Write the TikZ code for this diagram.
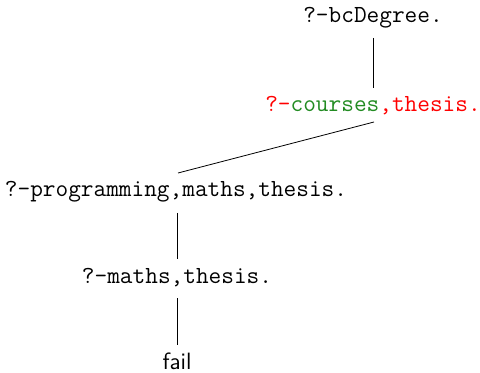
\documentclass[tikz,border=0pt]{standalone}
\definecolor{goalgreen}{RGB}{34,139,34}
\begin{document}
\begin{tikzpicture}[x=0.5pt,y=-0.5pt,
  goal/.style={font=\fontsize{12.3}{14}\selectfont\ttfamily, anchor=base, inner sep=0pt, outer sep=0pt},
  res/.style={font=\fontsize{11.8}{14}\selectfont\sffamily, anchor=base, inner sep=0pt, outer sep=0pt}]
\useasboundingbox (0,0) rectangle (480,373);
\node[goal] (bc) at (373,23) {?-bcDegree.};
\node[goal] (co) at (373,112) {\textcolor{red}{?-}\textcolor{goalgreen}{courses}\textcolor{red}{,thesis.}};
\node[goal] (pr) at (176,197) {?-programming,maths,thesis.};
\node[goal] (ma) at (177,283) {?-maths,thesis.};
\node[res] (fa) at (177,369) {fail};
\coordinate (bcS) at ([yshift=-7.5pt]bc.base);
\coordinate (coN) at ([yshift=12pt]co.base);
\coordinate (coS) at ([yshift=-5pt,xshift=0.5pt]co.base);
\coordinate (prN) at ([yshift=12pt,xshift=1pt]pr.base);
\coordinate (maN) at ([yshift=12pt]ma.base);
\coordinate (prS) at ([yshift=-8pt]pr.base -| maN);
\coordinate (maS) at ([yshift=-7.5pt]ma.base);
\coordinate (faN) at ([yshift=12pt]fa.base);
\draw[line width=0.4pt] (bcS) -- (coN);
\draw[line width=0.4pt] (coS) -- (prN);
\draw[line width=0.4pt] (prS) -- (maN);
\draw[line width=0.4pt] (maS) -- (faN);
\end{tikzpicture}
\end{document}
